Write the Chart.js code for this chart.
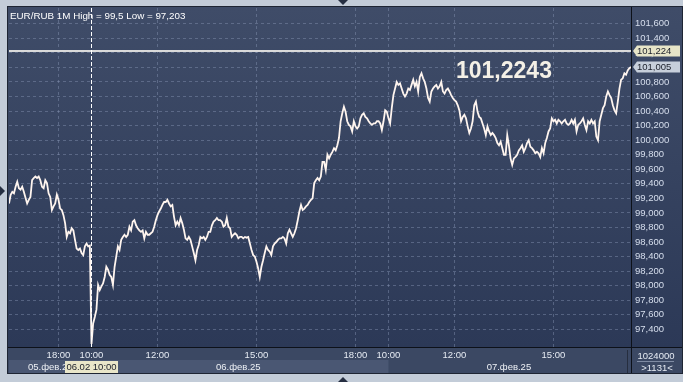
<!DOCTYPE html>
<html lang="ru">
<head>
<meta charset="UTF-8">
<title>EUR/RUB 1M</title>
<style>
  html, body { margin: 0; padding: 0; background: #c3ccd8; }
  canvas { display: block; }
</style>
</head>
<body>
<canvas id="chart" width="683" height="382"></canvas>
<script src="https://cdn.jsdelivr.net/npm/chart.js"></script>
<script>
// EUR/RUB, one value every 3 minutes from 05.02 16:30, night gaps squeezed to one hour
const day05 = [
  99.13, 99.25, 99.29, 99.27, 99.36, 99.43, 99.34, 99.32, 99.36, 99.29,
  99.21, 99.13, 99.18, 99.22, 99.45, 99.48, 99.50, 99.48, 99.50, 99.45,
  99.36, 99.34, 99.45, 99.41, 99.27, 99.22, 99.04, 99.09, 99.13, 99.25,
  99.18, 99.06, 99.04, 98.97, 98.86, 98.67, 98.74, 98.72, 98.79, 98.76,
  98.63, 98.51, 98.49, 98.51, 98.45, 98.42, 98.54, 98.58, 98.54, 98.55
];
const day06 = [
  97.20, 97.48, 97.57, 97.67, 98.01, 97.94, 97.99, 98.03, 98.12, 98.26,
  98.22, 98.15, 98.12, 98.01, 98.26, 98.40, 98.54, 98.49, 98.63, 98.67,
  98.70, 98.67, 98.70, 98.81, 98.76, 98.88, 98.90, 98.83, 98.79, 98.76,
  98.74, 98.76, 98.65, 98.74, 98.70, 98.70, 98.72, 98.74, 98.81, 98.90,
  98.97, 99.02, 99.06, 99.11, 99.15, 99.15, 99.18, 99.13, 99.09, 99.11,
  98.95, 98.83, 98.88, 98.83, 98.93, 98.86, 98.77, 98.65, 98.63, 98.67,
  98.63, 98.54, 98.45, 98.35, 98.49, 98.56, 98.67, 98.65, 98.67, 98.63,
  98.67, 98.74, 98.74, 98.83, 98.88, 98.90, 98.93, 98.90, 98.90, 98.88,
  98.81, 98.83, 98.93, 98.81, 98.79, 98.67, 98.70, 98.72, 98.70, 98.65,
  98.67, 98.67, 98.65, 98.67, 98.66, 98.67, 98.58, 98.49, 98.42, 98.40,
  98.33, 98.24, 98.12, 98.26, 98.35, 98.45, 98.54, 98.49, 98.47, 98.42,
  98.54, 98.58, 98.60, 98.63, 98.65, 98.65, 98.67, 98.65, 98.58, 98.72,
  98.77, 98.72, 98.67, 98.72, 98.79, 98.90, 99.02, 99.11, 99.04, 99.06,
  99.09, 99.11, 99.15, 99.18, 99.20, 99.41, 99.45, 99.48, 99.45, 99.50,
  99.70, 99.70, 99.59, 99.80, 99.75, 99.80, 99.84, 99.89, 99.86, 99.93,
  100.03, 100.26, 100.37, 100.46, 100.39, 100.26, 100.21, 100.19, 100.12, 100.26,
  100.19, 100.16, 100.19, 100.30, 100.35, 100.37, 100.32, 100.30, 100.26, 100.23,
  100.21, 100.23, 100.23, 100.26, 100.26, 100.23, 100.14, 100.26, 100.41, 100.39
];
const day07 = [
  100.30, 100.23, 100.44, 100.62, 100.71, 100.80, 100.76, 100.78, 100.71, 100.64,
  100.60, 100.64, 100.71, 100.69, 100.76, 100.83, 100.74, 100.80, 100.67, 100.87,
  100.92, 100.85, 100.80, 100.71, 100.58, 100.53, 100.67, 100.71, 100.74, 100.76,
  100.71, 100.74, 100.80, 100.67, 100.64, 100.69, 100.71, 100.67, 100.62, 100.58,
  100.55, 100.53, 100.48, 100.41, 100.26, 100.32, 100.35, 100.30, 100.19, 100.10,
  100.16, 100.26, 100.48, 100.53, 100.39, 100.32, 100.30, 100.23, 100.16, 100.07,
  100.19, 100.12, 100.07, 100.10, 100.07, 100.03, 99.96, 99.93, 99.98, 99.89,
  99.80, 99.80, 100.07, 99.93, 99.75, 99.66, 99.75, 99.77, 99.80, 99.86,
  99.89, 99.93, 99.84, 99.89, 99.96, 100.00, 99.91, 99.89, 99.86, 99.82,
  99.84, 99.82, 99.77, 99.89, 99.82, 99.96, 100.03, 100.12, 100.16, 100.30,
  100.26, 100.28, 100.23, 100.28, 100.26, 100.23, 100.26, 100.28, 100.23, 100.21,
  100.23, 100.28, 100.23, 100.28, 100.12, 100.21, 100.23, 100.26, 100.30, 100.21,
  100.14, 100.26, 100.23, 100.28, 100.23, 100.26, 100.05, 100.00, 100.26, 100.35,
  100.44, 100.48, 100.60, 100.67, 100.62, 100.58, 100.48, 100.41, 100.37, 100.53,
  100.71, 100.83, 100.85, 100.92, 100.90, 100.96, 100.99, 101.005
];
const prices = day05.concat(day06, day07);

const yTicks = [97.4, 97.6, 97.8, 98.0, 98.2, 98.4, 98.6, 98.8, 99.0, 99.2, 99.4,
  99.6, 99.8, 100.0, 100.2, 100.4, 100.6, 100.8, 101.0, 101.2, 101.4, 101.6];
const timeTicks = [30, 50, 90, 150, 210, 230, 270, 330];
const timeLabels = ['18:00', '10:00', '12:00', '15:00', '18:00', '10:00', '12:00', '15:00'];
const dateTicks = [25, 139, 303];
const dateLabels = ['05.фев.25', '06.фев.25', '07.фев.25'];

const title = 'EUR/RUB 1M High = 99,5 Low = 97,203';
const levelPrice = 101.2243;
const lastPrice = 101.005;
const cursorStep = 50;
const cursorLabel = '06.02 10:00';
const volumeText = '1024000';
const countText = '>1131<';

const family = '"Liberation Sans", Arial, sans-serif';
const small = '9.5px ' + family;
const fmt = (v, d) => v.toFixed(d).replace('.', ',');

function tri(ctx, pts) {
  ctx.beginPath();
  ctx.moveTo(pts[0], pts[1]);
  ctx.lineTo(pts[2], pts[3]);
  ctx.lineTo(pts[4], pts[5]);
  ctx.closePath();
  ctx.fill();
}

function priceTag(ctx, y, text, fill) {
  ctx.fillStyle = fill;
  ctx.beginPath();
  ctx.moveTo(633, y);
  ctx.lineTo(637, y - 5.5);
  ctx.lineTo(680, y - 5.5);
  ctx.lineTo(680, y + 5.5);
  ctx.lineTo(637, y + 5.5);
  ctx.closePath();
  ctx.fill();
  ctx.fillStyle = '#1b1f2a';
  ctx.textAlign = 'left';
  ctx.textBaseline = 'middle';
  ctx.fillText(text, 637, y + 0.5);
}

const decor = {
  id: 'decor',
  beforeDraw(chart) {
    const ctx = chart.ctx;
    const xs = chart.scales.x;
    ctx.save();
    ctx.fillStyle = '#c3ccd8';
    ctx.fillRect(0, 0, chart.width, chart.height);
    const g = ctx.createLinearGradient(0, 8, 0, 347);
    g.addColorStop(0, '#3f4c68');
    g.addColorStop(1, '#2c3957');
    ctx.fillStyle = g;
    ctx.fillRect(8, 7, 674, 340);
    // bottom axis band
    ctx.fillStyle = '#3b4863';
    ctx.fillRect(8, 347, 674, 26);
    ctx.fillStyle = '#4a5773';
    ctx.fillRect(9, 360, xs.getPixelForValue(230) - 9, 13);
    ctx.strokeStyle = '#262e3f';
    ctx.lineWidth = 1;
    ctx.beginPath();
    ctx.moveTo(627.5, 350);
    ctx.lineTo(627.5, 373);
    ctx.stroke();
    ctx.strokeStyle = '#1e2533';
    ctx.strokeRect(7.5, 6.5, 675, 367);
    ctx.restore();
  },
  afterDatasetsDraw(chart) {
    const { ctx, chartArea: a } = chart;
    const xs = chart.scales.x;
    const ys = chart.scales.y;
    ctx.save();

    // title
    ctx.font = '9.8px ' + family;
    ctx.fillStyle = '#ffffff';
    ctx.textAlign = 'left';
    ctx.textBaseline = 'alphabetic';
    ctx.fillText(title, 10, 18.5);

    // level line
    const ly = ys.getPixelForValue(levelPrice);
    ctx.strokeStyle = '#dadada';
    ctx.lineWidth = 2;
    ctx.beginPath();
    ctx.moveTo(a.left, ly);
    ctx.lineTo(a.right, ly);
    ctx.stroke();

    // crosshair
    const cx = Math.round(xs.getPixelForValue(cursorStep)) + 0.5;
    ctx.strokeStyle = '#ffffff';
    ctx.lineWidth = 1;
    ctx.setLineDash([4, 2]);
    ctx.beginPath();
    ctx.moveTo(cx, a.top);
    ctx.lineTo(cx, a.bottom);
    ctx.stroke();
    ctx.setLineDash([]);

    // separators
    ctx.strokeStyle = '#0d1119';
    ctx.beginPath();
    ctx.moveTo(a.right + 0.5, 7);
    ctx.lineTo(a.right + 0.5, 373);
    ctx.moveTo(8, a.bottom + 0.5);
    ctx.lineTo(682, a.bottom + 0.5);
    ctx.stroke();

    // price tags
    ctx.font = small;
    priceTag(ctx, ly, fmt(levelPrice, 3), '#e7e5c8');
    priceTag(ctx, ys.getPixelForValue(lastPrice), fmt(lastPrice, 3), '#c7cfdb');

    // big level text
    ctx.font = 'bold 23px ' + family;
    ctx.fillStyle = '#f4f0e6';
    ctx.textAlign = 'left';
    ctx.textBaseline = 'alphabetic';
    ctx.fillText(fmt(levelPrice, 4), 456, 77.5);

    // dates
    ctx.font = small;
    ctx.fillStyle = '#eef1f6';
    ctx.textAlign = 'center';
    dateTicks.forEach((d, i) => ctx.fillText(dateLabels[i], xs.getPixelForValue(d), 369.5));

    // cursor time box
    ctx.fillStyle = '#e9e6c9';
    ctx.fillRect(cx - 26.5, 361, 53, 12);
    ctx.fillStyle = '#1b1f2a';
    ctx.fillText(cursorLabel, cx, 370);

    // bottom right counters
    ctx.fillStyle = '#e6ebf3';
    ctx.fillText(volumeText, 656, 358.5);
    ctx.fillText(countText, 657, 370.5);
    ctx.strokeStyle = '#7f8ba3';
    ctx.beginPath();
    ctx.moveTo(637, 361.5);
    ctx.lineTo(674, 361.5);
    ctx.stroke();

    // frame arrows
    ctx.fillStyle = '#262f42';
    tri(ctx, [338, 0, 348, 0, 343, 5]);
    tri(ctx, [0, 186, 0, 196, 5, 191]);
    tri(ctx, [338, 382, 348, 382, 343, 377]);
    ctx.restore();
  }
};

const gridColor = 'rgba(140, 155, 185, 0.42)';

new Chart(document.getElementById('chart'), {
  type: 'line',
  data: {
    datasets: [{
      data: prices.map((v, i) => ({ x: i, y: v })),
      borderColor: '#fff5ef',
      borderWidth: 1.8,
      pointRadius: 0,
      tension: 0,
      fill: false
    }]
  },
  options: {
    responsive: false,
    animation: false,
    events: [],
    layout: { padding: { left: 9, top: 8, right: 1, bottom: 9 } },
    plugins: { legend: { display: false }, tooltip: { enabled: false } },
    scales: {
      x: {
        type: 'linear',
        min: 0,
        max: prices.length - 1,
        afterBuildTicks: s => { s.ticks = timeTicks.map(v => ({ value: v })); },
        afterFit: s => { s.height = 26; },
        ticks: {
          autoSkip: false,
          maxRotation: 0,
          padding: 3,
          color: '#e6ebf3',
          font: { family: family, size: 9.5 },
          callback: (v, i) => timeLabels[i]
        },
        grid: { color: gridColor, drawTicks: false },
        border: { display: false, dash: [3, 3] }
      },
      y: {
        position: 'right',
        min: 97.157,
        max: 101.817,
        afterBuildTicks: s => { s.ticks = yTicks.map(v => ({ value: v })); },
        afterFit: s => { s.width = 51; s.paddingTop = 0; s.paddingBottom = 0; },
        ticks: {
          padding: 4,
          color: '#d7dfee',
          font: { family: family, size: 9.5 },
          callback: v => fmt(v, 3)
        },
        grid: { color: gridColor, drawTicks: false },
        border: { display: false, dash: [3, 3] }
      }
    }
  },
  plugins: [decor]
});
</script>
</body>
</html>
